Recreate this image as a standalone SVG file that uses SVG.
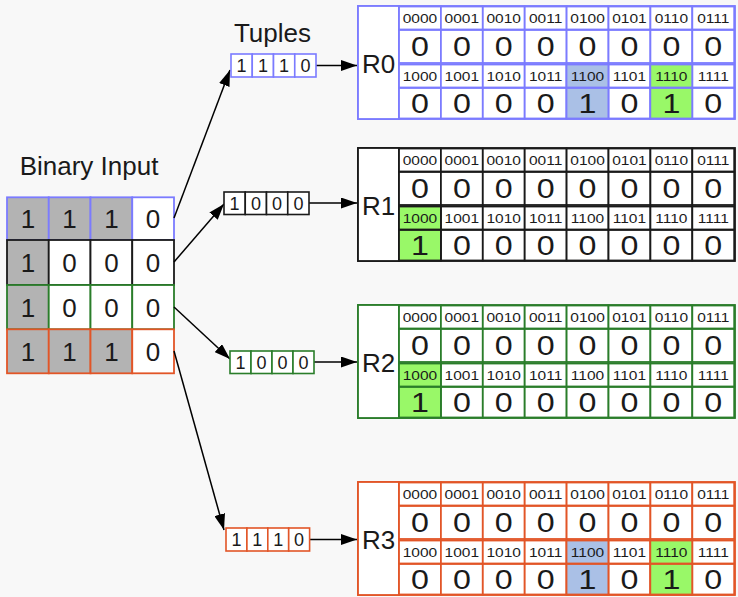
<svg xmlns="http://www.w3.org/2000/svg" xmlns:xlink="http://www.w3.org/1999/xlink" width="738" height="597" viewBox="0 0 738 597">
<style>
text{font-family:"Liberation Sans",Arial,sans-serif;fill:#1a1a1a;text-anchor:middle}
.title{font-size:26px}
.bin{font-size:26px}
.tup{font-size:18px}
.lbl{font-size:26px}
.hdr{font-size:13.5px}
.val{font-size:28px}
.cell{stroke-width:1.8}
.conn{stroke:#000;stroke-width:1.5;fill:none;marker-end:url(#ah)}
</style>
<defs>
<marker id="ah" markerUnits="userSpaceOnUse" markerWidth="16" markerHeight="11" refX="16" refY="5.5" orient="auto">
<path d="M0,0 L16,5.5 L0,11 z" fill="#000"/>
</marker>
<g id="grid" fill="#fff" stroke-width="1.8">
<rect x="0" y="0" width="377" height="113"/>
<rect x="0" y="0" width="41" height="113"/>
<g id="gcol">
<rect x="41" y="0.5" width="41.9" height="23"/>
<rect x="41" y="24" width="41.9" height="33"/>
<rect x="41" y="58.5" width="41.9" height="23"/>
<rect x="41" y="82" width="41.9" height="30.5"/>
</g>
<use xlink:href="#gcol" x="41.9"/>
<use xlink:href="#gcol" x="83.8"/>
<use xlink:href="#gcol" x="125.7"/>
<use xlink:href="#gcol" x="167.6"/>
<use xlink:href="#gcol" x="209.5"/>
<use xlink:href="#gcol" x="251.4"/>
<use xlink:href="#gcol" x="293.3"/>
</g>
<g id="hdrs">
<g transform="scale(1.15 1)">
<text class="hdr" y="16.8"><tspan x="53.87">0000</tspan><tspan x="90.3">0001</tspan><tspan x="126.74">0010</tspan><tspan x="163.17">0011</tspan><tspan x="199.61">0100</tspan><tspan x="236.04">0101</tspan><tspan x="272.48">0110</tspan><tspan x="308.91">0111</tspan></text>
<text class="hdr" y="74.8"><tspan x="53.87">1000</tspan><tspan x="90.3">1001</tspan><tspan x="126.74">1010</tspan><tspan x="163.17">1011</tspan><tspan x="199.61">1100</tspan><tspan x="236.04">1101</tspan><tspan x="272.48">1110</tspan><tspan x="308.91">1111</tspan></text>
</g>
<g transform="scale(1.15 1)">
<text class="val" y="50.5"><tspan x="53.87">0</tspan><tspan x="90.3">0</tspan><tspan x="126.74">0</tspan><tspan x="163.17">0</tspan><tspan x="199.61">0</tspan><tspan x="236.04">0</tspan><tspan x="272.48">0</tspan><tspan x="308.91">0</tspan></text>
</g>
</g>
<g id="valsA" transform="scale(1.15 1)">
<text class="val" y="107"><tspan x="53.87">0</tspan><tspan x="90.3">0</tspan><tspan x="126.74">0</tspan><tspan x="163.17">0</tspan><tspan x="199.61">1</tspan><tspan x="236.04">0</tspan><tspan x="272.48">1</tspan><tspan x="308.91">0</tspan></text>
</g>
<g id="valsB" transform="scale(1.15 1)">
<text class="val" y="107"><tspan x="53.87">1</tspan><tspan x="90.3">0</tspan><tspan x="126.74">0</tspan><tspan x="163.17">0</tspan><tspan x="199.61">0</tspan><tspan x="236.04">0</tspan><tspan x="272.48">0</tspan><tspan x="308.91">0</tspan></text>
</g>
</defs>
<rect width="738" height="597" fill="#f8f8f8"/>

<text class="title" x="89" y="175">Binary Input</text>
<text class="title" x="272.5" y="42">Tuples</text>

<g id="binary-input" class="cell">
<g stroke="#7b7bff">
<rect x="7" y="197.3" width="41.75" height="42.7" fill="#b3b3b3"/>
<rect x="48.75" y="197.3" width="41.75" height="42.7" fill="#b3b3b3"/>
<rect x="90.5" y="197.3" width="41.75" height="42.7" fill="#b3b3b3"/>
<rect x="132.25" y="197.3" width="41.75" height="42.7" fill="#fff"/>
</g>
<g stroke="#1a1a1a">
<rect x="7" y="240" width="41.75" height="45" fill="#b3b3b3"/>
<rect x="48.75" y="240" width="41.75" height="45" fill="#fff"/>
<rect x="90.5" y="240" width="41.75" height="45" fill="#fff"/>
<rect x="132.25" y="240" width="41.75" height="45" fill="#fff"/>
</g>
<g stroke="#2a7d2a">
<rect x="7" y="285" width="41.75" height="44.3" fill="#b3b3b3"/>
<rect x="48.75" y="285" width="41.75" height="44.3" fill="#fff"/>
<rect x="90.5" y="285" width="41.75" height="44.3" fill="#fff"/>
<rect x="132.25" y="285" width="41.75" height="44.3" fill="#fff"/>
</g>
<g stroke="#e25527">
<rect x="7" y="329.3" width="41.75" height="44" fill="#b3b3b3"/>
<rect x="48.75" y="329.3" width="41.75" height="44" fill="#b3b3b3"/>
<rect x="90.5" y="329.3" width="41.75" height="44" fill="#b3b3b3"/>
<rect x="132.25" y="329.3" width="41.75" height="44" fill="#fff"/>
</g>
<text class="bin" y="228"><tspan x="27.9">1</tspan><tspan x="69.6">1</tspan><tspan x="111.4">1</tspan><tspan x="153.1">0</tspan></text>
<text class="bin" y="272"><tspan x="27.9">1</tspan><tspan x="69.6">0</tspan><tspan x="111.4">0</tspan><tspan x="153.1">0</tspan></text>
<text class="bin" y="316.5"><tspan x="27.9">1</tspan><tspan x="69.6">0</tspan><tspan x="111.4">0</tspan><tspan x="153.1">0</tspan></text>
<text class="bin" y="360.7"><tspan x="27.9">1</tspan><tspan x="69.6">1</tspan><tspan x="111.4">1</tspan><tspan x="153.1">0</tspan></text>
</g>

<g id="connectors">
<line class="conn" x1="174" y1="218" x2="230" y2="70"/>
<line class="conn" x1="174" y1="262" x2="224" y2="204"/>
<line class="conn" x1="174" y1="307" x2="230" y2="359"/>
<line class="conn" x1="174" y1="351" x2="224" y2="530"/>
<line class="conn" x1="316" y1="65.5" x2="357" y2="65.5"/>
<line class="conn" x1="309" y1="203" x2="357" y2="203"/>
<line class="conn" x1="314" y1="362" x2="357" y2="362"/>
<line class="conn" x1="309" y1="539.5" x2="357" y2="539.5"/>
</g>

<g id="tuple0" transform="translate(231 54)" stroke="#7b7bff" fill="#fff" stroke-width="1.6">
<rect x="0" y="0" width="21.25" height="23"/><rect x="21.25" y="0" width="21.25" height="23"/><rect x="42.5" y="0" width="21.25" height="23"/><rect x="63.75" y="0" width="21.25" height="23"/>
<text class="tup" y="18" stroke="none"><tspan x="10.6">1</tspan><tspan x="31.9">1</tspan><tspan x="53.1">1</tspan><tspan x="74.4">0</tspan></text>
</g>
<g id="tuple1" transform="translate(224 192)" stroke="#1a1a1a" fill="#fff" stroke-width="1.6">
<rect x="0" y="0" width="21.25" height="22.5"/><rect x="21.25" y="0" width="21.25" height="22.5"/><rect x="42.5" y="0" width="21.25" height="22.5"/><rect x="63.75" y="0" width="21.25" height="22.5"/>
<text class="tup" y="17.8" stroke="none"><tspan x="10.6">1</tspan><tspan x="31.9">0</tspan><tspan x="53.1">0</tspan><tspan x="74.4">0</tspan></text>
</g>
<g id="tuple2" transform="translate(230 351)" stroke="#2a7d2a" fill="#fff" stroke-width="1.6">
<rect x="0" y="0" width="21" height="22.5"/><rect x="21" y="0" width="21" height="22.5"/><rect x="42" y="0" width="21" height="22.5"/><rect x="63" y="0" width="21" height="22.5"/>
<text class="tup" y="17.8" stroke="none"><tspan x="10.5">1</tspan><tspan x="31.5">0</tspan><tspan x="52.5">0</tspan><tspan x="73.5">0</tspan></text>
</g>
<g id="tuple3" transform="translate(226 528)" stroke="#e25527" fill="#fff" stroke-width="1.6">
<rect x="0" y="0" width="20.9" height="23"/><rect x="20.9" y="0" width="20.9" height="23"/><rect x="41.8" y="0" width="20.9" height="23"/><rect x="62.7" y="0" width="20.9" height="23"/>
<text class="tup" y="18" stroke="none"><tspan x="10.4">1</tspan><tspan x="31.3">1</tspan><tspan x="52.2">1</tspan><tspan x="73.1">0</tspan></text>
</g>

<g id="R0" transform="translate(358 6)">
<use xlink:href="#grid" stroke="#7b7bff"/>
<g stroke="#7b7bff" stroke-width="1.8">
<rect x="208.5" y="58.5" width="41.9" height="23" fill="#aac0e6"/>
<rect x="208.5" y="82" width="41.9" height="30.5" fill="#aac0e6"/>
<rect x="292.3" y="58.5" width="41.9" height="23" fill="#99f868"/>
<rect x="292.3" y="82" width="41.9" height="30.5" fill="#99f868"/>
</g>
<text class="lbl" x="20.5" y="67">R0</text>
<use xlink:href="#hdrs"/>
<use xlink:href="#valsA"/>
</g>

<g id="R1" transform="translate(358 148)">
<use xlink:href="#grid" stroke="#1a1a1a"/>
<g stroke="#1a1a1a" stroke-width="1.8">
<rect x="41" y="58.5" width="41.9" height="23" fill="#99f868"/>
<rect x="41" y="82" width="41.9" height="30.5" fill="#99f868"/>
</g>
<text class="lbl" x="20.5" y="67">R1</text>
<use xlink:href="#hdrs"/>
<use xlink:href="#valsB"/>
</g>

<g id="R2" transform="translate(358 305)">
<use xlink:href="#grid" stroke="#2a7d2a"/>
<g stroke="#2a7d2a" stroke-width="1.8">
<rect x="41" y="58.5" width="41.9" height="23" fill="#99f868"/>
<rect x="41" y="82" width="41.9" height="30.5" fill="#99f868"/>
</g>
<text class="lbl" x="20.5" y="67">R2</text>
<use xlink:href="#hdrs"/>
<use xlink:href="#valsB"/>
</g>

<g id="R3" transform="translate(358 482)">
<use xlink:href="#grid" stroke="#e25527"/>
<g stroke="#e25527" stroke-width="1.8">
<rect x="208.5" y="58.5" width="41.9" height="23" fill="#aac0e6"/>
<rect x="208.5" y="82" width="41.9" height="30.5" fill="#aac0e6"/>
<rect x="292.3" y="58.5" width="41.9" height="23" fill="#99f868"/>
<rect x="292.3" y="82" width="41.9" height="30.5" fill="#99f868"/>
</g>
<text class="lbl" x="20.5" y="67">R3</text>
<use xlink:href="#hdrs"/>
<use xlink:href="#valsA"/>
</g>
</svg>
